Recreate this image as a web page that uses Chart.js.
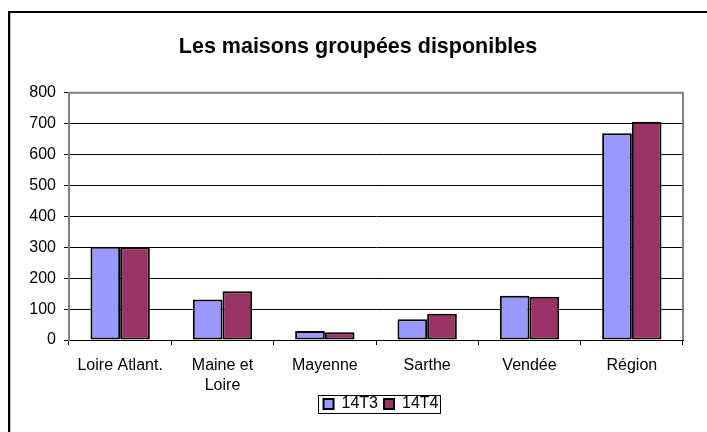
<!DOCTYPE html>
<html><head><meta charset="utf-8">
<script src="https://cdn.jsdelivr.net/npm/chart.js@4"></script>
<style>html,body{margin:0;padding:0;background:#fff;}#wrap{width:707px;height:432px;position:relative;}</style>
</head><body><div id="wrap"><canvas id="c" width="707" height="432"></canvas></div>
<script>
const categories = [["Loire Atlant."], ["Maine et", "Loire"], ["Mayenne"], ["Sarthe"], ["Vendée"], ["Région"]];
const series14T3 = [302, 131, 29, 67, 143, 669];
const series14T4 = [300, 158, 25, 85, 140, 706];
const yTicks = [0, 100, 200, 300, 400, 500, 600, 700, 800];
const FONT = "'Liberation Sans', Arial, sans-serif";

const framePlugin = {
  id: 'frame',
  afterLayout(chart) {
    const tb = chart.titleBlock;
    if (tb) { tb.left += 16.5; tb.right += 16.5; }
    const lg = chart.legend;
    if (lg) { lg.top -= 4; lg.bottom -= 4; lg.left += 5; lg.right += 5; }
  },
  beforeDatasetsDraw(chart) {
    const {ctx, chartArea: a} = chart;
    ctx.save();
    ctx.strokeStyle = '#808080';
    ctx.lineWidth = 2;
    ctx.beginPath();
    ctx.moveTo(a.left, a.top);
    ctx.lineTo(a.right, a.top);
    ctx.lineTo(a.right, a.bottom);
    ctx.stroke();
    ctx.restore();
  },
  afterDraw(chart) {
    const ctx = chart.ctx;
    ctx.save();
    ctx.strokeStyle = '#000';
    ctx.lineWidth = 2;
    ctx.beginPath();
    ctx.moveTo(9, 440);
    ctx.lineTo(9, 12);
    ctx.lineTo(720, 12);
    ctx.stroke();
    ctx.strokeStyle = '#c0c0c0';
    ctx.lineWidth = 1;
    ctx.beginPath();
    ctx.moveTo(10.5, 440);
    ctx.lineTo(10.5, 13.5);
    ctx.stroke();
    const lg = chart.legend;
    if (lg && lg.legendHitBoxes && lg.legendHitBoxes.length) {
      const hb = lg.legendHitBoxes;
      const l = Math.min(...hb.map(h => h.left)) - 6;
      const r = Math.max(...hb.map(h => h.left + h.width)) + 1;
      const t = Math.min(...hb.map(h => h.top)) - 1;
      const b = Math.max(...hb.map(h => h.top + h.height)) + 1;
      ctx.strokeStyle = '#000';
      ctx.lineWidth = 1;
      ctx.strokeRect(Math.round(l) + 0.5, Math.round(t) + 0.5, Math.round(r - l), Math.round(b - t));
    }
    ctx.restore();
  }
};

new Chart(document.getElementById('c'), {
  type: 'bar',
  data: {
    labels: categories,
    datasets: [
      {label: '14T3', data: series14T3, backgroundColor: '#9999FF', borderColor: '#000', borderWidth: 2, borderSkipped: false},
      {label: '14T4', data: series14T4, backgroundColor: '#993366', borderColor: '#000', borderWidth: 2, borderSkipped: false}
    ]
  },
  options: {
    responsive: false,
    animation: false,
    devicePixelRatio: 1,
    layout: {padding: {left: 0, right: 24, top: 0, bottom: 6}},
    datasets: {bar: {categoryPercentage: 0.58, barPercentage: 1}},
    plugins: {
      title: {
        display: true,
        text: 'Les maisons groupées disponibles',
        color: '#000',
        font: {family: FONT, size: 21.5, weight: 'bold', lineHeight: 1.2},
        padding: {top: 34, bottom: 33}
      },
      legend: {
        position: 'bottom',
        fullSize: false,
        labels: {
          color: '#000',
          font: {family: FONT, size: 16},
          boxWidth: 10,
          boxHeight: 10,
          padding: 6,
          generateLabels(chart) {
            return chart.data.datasets.map((d, i) => ({
              text: d.label, fillStyle: d.backgroundColor, strokeStyle: '#000', lineWidth: 2,
              datasetIndex: i, hidden: false, fontColor: '#000'
            }));
          }
        }
      },
      tooltip: {enabled: false}
    },
    scales: {
      x: {
        afterFit(s) { s.height = 54; },
        grid: {display: true, drawOnChartArea: false, drawTicks: true, tickLength: 5, color: '#000', tickColor: '#000'},
        border: {display: true, color: '#000', width: 1},
        ticks: {color: '#000', font: {family: FONT, size: 16, lineHeight: 1.25}, padding: 11, maxRotation: 0, autoSkip: false}
      },
      y: {
        min: 0, max: 800,
        afterFit(s) { s.width = 69; },
        afterBuildTicks(s) { s.ticks = yTicks.map(v => ({value: v})); },
        grid: {color: '#000', tickColor: '#000', tickLength: 5, lineWidth: 1},
        border: {display: true, color: '#808080', width: 2},
        ticks: {color: '#000', font: {family: FONT, size: 16}, padding: 8}
      }
    }
  },
  plugins: [framePlugin]
});
</script></body></html>
